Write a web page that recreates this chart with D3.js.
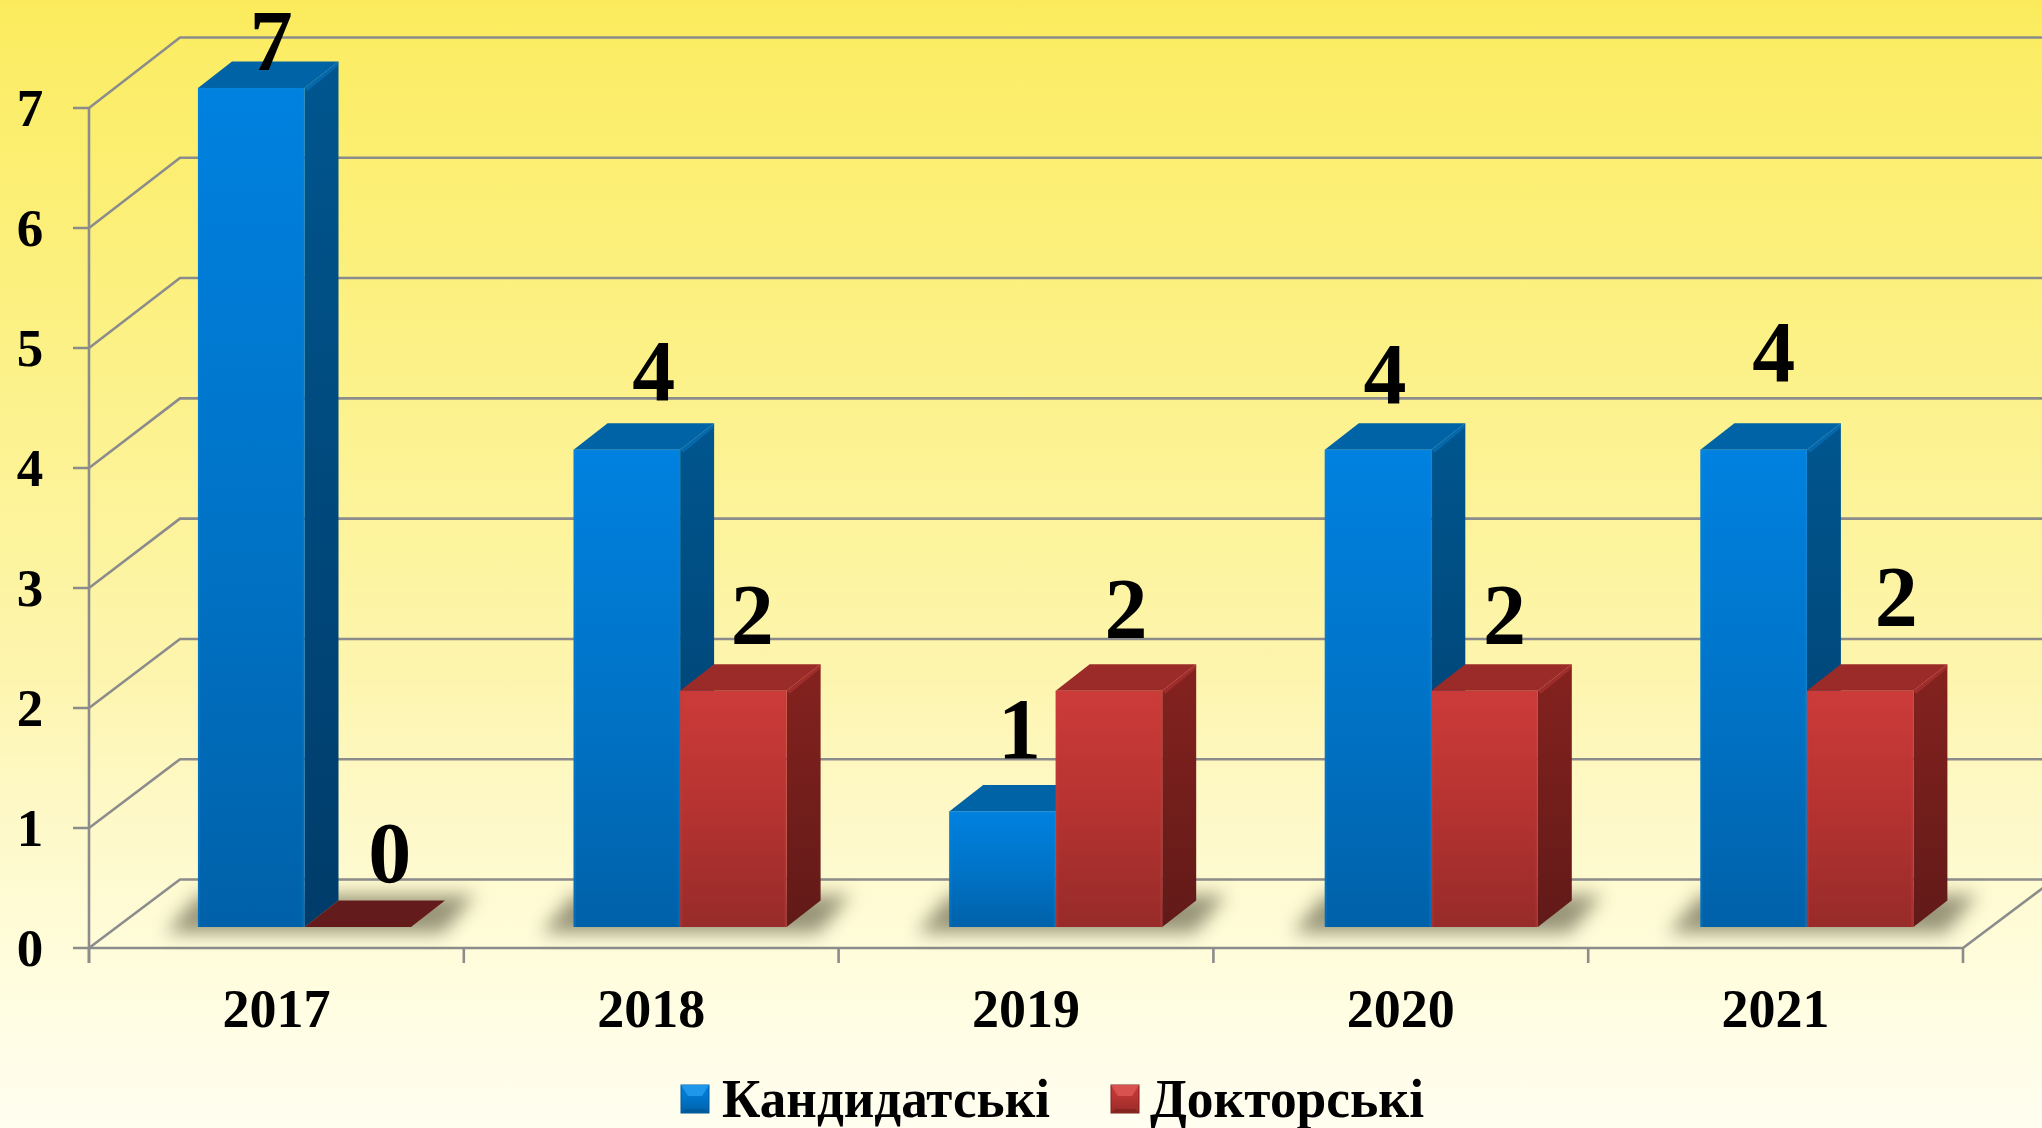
<!DOCTYPE html>
<html><head><meta charset="utf-8">
<style>html,body{margin:0;padding:0;background:#fffdf0}svg{display:block}text{font-family:"Liberation Serif","Times New Roman",serif;font-weight:bold;fill:#000}</style>
<script src="https://cdn.jsdelivr.net/npm/d3@7/dist/d3.min.js"></script>
</head><body><svg id="c" width="2042" height="1128"></svg>
<script>
const categories = ["2017","2018","2019","2020","2021"];
const seriesNames = ["Кандидатські","Докторські"];
const candidate = [7,4,1,4,4];
const doctoral = [0,2,2,2,2];
const yTicks = [0,1,2,3,4,5,6,7];
// placement of the hand-moved value labels, relative to the top of each bar
const labelShiftCandidate = [[20,-18],[27,-50],[17,-53],[7,-47],[20,-69]];
const labelShiftDoctoral = [[32,-45],[19,-47],[17,-53],[20,-47],[36,-65]];

const W=2042,H=1128, depthX=34, depthY=26.5, wallX=91, baseY=927;
const svg=d3.select("#c");
const defs=svg.append("defs");
function grad(id,stops,x2=0,y2=1){
  const g=defs.append("linearGradient").attr("id",id).attr("x1",0).attr("y1",0).attr("x2",x2).attr("y2",y2);
  stops.forEach(s=>g.append("stop").attr("offset",s[0]).attr("stop-color",s[1]));
}
grad("bg",[[0,"#fbeb5c"],[.05,"#fbed66"],[.3,"#fcf185"],[.6,"#fdf5ae"],[.7,"#fef8c4"],[.88,"#fffde0"],[1,"#fffef0"]]);
grad("f0",[[0,"#0081e0"],[.5,"#0074c8"],[1,"#0061a9"]]);
grad("s0",[[0,"#00568f"],[1,"#003c6a"]]);
grad("f1",[[0,"#cc3b39"],[.5,"#b53331"],[1,"#972b29"]]);
grad("s1",[[0,"#85221f"],[1,"#611a18"]]);
defs.append("filter").attr("id","blur").attr("x","-20%").attr("y","-60%").attr("width","140%").attr("height","220%")
  .append("feGaussianBlur").attr("stdDeviation",9);
const palette=[{front:"url(#f0)",side:"url(#s0)",top:"#0063a6",edge:"#0a84dc",flat:"#00508a"},
               {front:"url(#f1)",side:"url(#s1)",top:"#9a2b29",edge:"#c83e3b",flat:"#631c1b"}];

svg.append("rect").attr("width",W).attr("height",H).attr("fill","url(#bg)");

const y=d3.scaleLinear().domain([0,7]).range([948,108]);
const yBack=d3.scaleLinear().domain([0,7]).range([879.5,37.5]);
const x=d3.scaleBand().domain(categories).range([89,1963]);
const xBar=d3.scaleBand().domain(categories).range([198,198+5*375.6]);
const xSub=d3.scaleBand().domain(seriesNames).range([0,213]);
const yBar=d3.scaleLinear().domain([0,7]).range([932,88]);
const topOf=v=>Math.min(baseY,yBar(v));

const gridC="#8c8c8c", gridW=2.6;
const grid=svg.append("g").attr("stroke",gridC).attr("stroke-width",gridW).attr("fill","none");
yTicks.forEach(t=>{
  grid.append("path").attr("d",`M73,${y(t)}H89L${89+wallX},${yBack(t)}H${W}`);
});
grid.append("path").attr("d",`M89,${y(7)}V963`);
grid.append("path").attr("d",`M89,${y(0)}H${x.range()[1]}L${x.range()[1]+wallX},${yBack(0)}`);
categories.concat(["end"]).forEach(c=>{
  const px=c==="end"?x.range()[1]:x(c);
  grid.append("path").attr("d",`M${px},${y(0)}V963`);
});

// floor shadows
categories.forEach(c=>{
  const l=xBar(c), r=l+xSub.range()[1]+depthX;
  svg.append("path").attr("fill","#5e5c45").attr("opacity",.64).attr("filter","url(#blur)")
   .attr("d",`M${l-32},933L${l},${baseY-32}H${r+30}L${r-2},933Z`);
});

function bar(l,w,v,pal){
  const t=topOf(v), g=svg.append("g");
  if(v===0){
    g.append("path").attr("fill",pal.flat).attr("d",`M${l},${baseY}L${l+depthX},${baseY-depthY}H${l+w+depthX}L${l+w},${baseY}Z`);
    return;
  }
  g.append("path").attr("fill",pal.side).attr("d",`M${l+w},${t}L${l+w+depthX},${t-depthY}V${baseY-depthY}L${l+w},${baseY}Z`);
  g.append("path").attr("fill",pal.top).attr("d",`M${l},${t}L${l+depthX},${t-depthY}H${l+w+depthX}L${l+w},${t}Z`);
  g.append("path").attr("fill",pal.edge).attr("opacity",.4).attr("d",`M${l+w},${t}L${l+w+depthX},${t-depthY}V${t-depthY+4}L${l+w+3},${t+3}Z`);
  g.append("rect").attr("x",l).attr("y",t).attr("width",w).attr("height",baseY-t).attr("fill",pal.front);
  g.append("path").attr("stroke",pal.edge).attr("stroke-width",2.5).attr("fill","none").attr("opacity",.3).attr("d",`M${l+1},${baseY}V${t+1}H${l+w-1}V${baseY}`);
}
categories.forEach((c,i)=>{
  const w=xSub.bandwidth();
  bar(xBar(c)+xSub(seriesNames[0]),w,candidate[i],palette[0]);
  bar(xBar(c)+xSub(seriesNames[1]),w,doctoral[i],palette[1]);
});

// axis labels
svg.append("g").selectAll("text").data(yTicks).join("text").attr("x",30).attr("y",d=>y(d)+18)
  .attr("text-anchor","middle").attr("font-size",53).text(d=>d);
svg.append("g").selectAll("text").data(categories).join("text").attr("x",d=>x(d)+x.bandwidth()/2).attr("y",1027)
  .attr("text-anchor","middle").attr("font-size",54).text(d=>d);

// value labels
function valueLabels(vals,name,shift){
  svg.append("g").selectAll("text").data(vals).join("text")
    .attr("x",(d,i)=>xBar(categories[i])+xSub(name)+xSub.bandwidth()/2+shift[i][0])
    .attr("y",(d,i)=>topOf(d)+shift[i][1])
    .attr("text-anchor","middle").attr("font-size",86).text(d=>d);
}
valueLabels(candidate,seriesNames[0],labelShiftCandidate);
valueLabels(doctoral,seriesNames[1],labelShiftDoctoral);

// legend
const legendX=[681,1111], legendTextX=[722,1150], legendLen=[328,274];
seriesNames.forEach((n,i)=>{
  const g=svg.append("g"), a=legendX[i], b=1085, s=28, m=7, pal=palette[i];
  const cols=i===0?["#1e96ea","#0073c4","#005a9c","#0068b4"]:["#d85350","#bb3634","#86241f","#9c2b29"];
  g.append("rect").attr("x",a).attr("y",b).attr("width",s).attr("height",s).attr("fill",pal.front).attr("stroke",i===0?"#005a9c":"#7a2220").attr("stroke-width",1);
  g.append("path").attr("fill",cols[0]).attr("d",`M${a},${b}H${a+s}L${a+s-m},${b+m+4}H${a+m}Z`);
  g.append("path").attr("fill",cols[2]).attr("d",`M${a},${b+s}H${a+s}L${a+s-4},${b+s-4}H${a+4}Z`);
  g.append("text").attr("x",legendTextX[i]).attr("y",1117).attr("font-size",54).attr("textLength",legendLen[i]).attr("lengthAdjust","spacingAndGlyphs").text(n);
});
</script></body></html>
